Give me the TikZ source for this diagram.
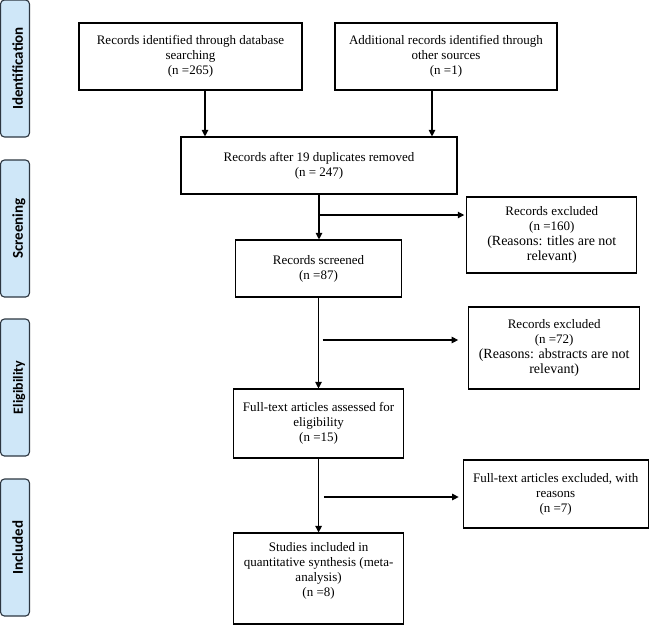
\documentclass[tikz,border=0pt]{standalone}
\usepackage{fontspec}
\setmainfont{Liberation Serif}
\newfontfamily\labfont{Carlito}
\usetikzlibrary{arrows.meta}
\definecolor{labfill}{RGB}{207,231,248}
\definecolor{labdraw}{RGB}{45,55,65}
\newcommand\rsn{\fontsize{14}{16.5}\selectfont}
\begin{document}
\begin{tikzpicture}[x=1pt,y=-1pt,
  box/.style={draw, line width=1.1pt, inner sep=0pt, align=center, font=\fontsize{13}{15}\selectfont},
  lab/.style={draw=labdraw, fill=labfill, line width=1.1pt, rounded corners=4pt, rotate=90,
    minimum width=137pt, minimum height=29pt, inner sep=0pt, text height=16pt, text depth=0pt,
    font=\labfont\bfseries\fontsize{15}{18}\selectfont},
  arr/.style={line width=1.1pt, -{Triangle[length=6.5pt,width=6.5pt]}}]
\useasboundingbox (0,0) rectangle (650,625);

% phase labels
\node[lab] (l1) at (15,68.5) {Identification};
\node[lab] (l2) at (15,228.5) {Screening};
\node[lab, font=\labfont\bfseries\fontsize{14}{17}\selectfont] (l3) at (15,387.5) {Eligibility};
\node[lab] (l4) at (15,547.5) {Included};

% boxes
\node[box, minimum width=223pt, minimum height=67pt] (b1) at (190.5,56.5) {Records identified through database\\searching\\(n =265)};
\node[box, minimum width=222pt, minimum height=67pt] (b2) at (446,56.5) {Additional records identified through\\other sources\\(n =1)};
\node[box, minimum width=276pt, minimum height=57pt] (b3) at (319,165.5) {Records after 19 duplicates removed\\(n = 247)};
\node[box, minimum width=170pt, minimum height=76pt] (e1) at (551.8,235) {Records excluded\\(n =160)\\\rsn (Reasons: titles are not\\\rsn relevant)};
\node[box, minimum width=166pt, minimum height=57pt] (s) at (318.5,268.5) {Records screened\\(n =87)};
\node[box, minimum width=171pt, minimum height=82pt] (e2) at (554.2,348) {Records excluded\\(n =72)\\\rsn (Reasons: abstracts are not\\\rsn relevant)};
\node[box, minimum width=170pt, minimum height=69pt] (f) at (318.6,423.5) {Full-text articles assessed for\\eligibility\\(n =15)};
\node[box, minimum width=185pt, minimum height=68pt] (e3) at (555.7,494) {Full-text articles excluded, with\\reasons\\(n =7)};
\node[box, minimum width=170pt, minimum height=91pt] (st) at (318.6,578.5) {Studies included in\\quantitative synthesis (meta-\\analysis)\\(n =8)\\[4pt]};

% connectors
\draw[arr] ([xshift=14.5pt]b1.south) -- ([xshift=14.5pt]b1.south |- b3.north);
\draw[arr] ([xshift=-14pt]b2.south) -- ([xshift=-14pt]b2.south |- b3.north);
\draw[arr] (b3.south) -- (b3.south |- s.north);
\coordinate (c1) at (319,215);
\draw[arr, shorten >=2pt] (c1) -- (c1 -| e1.west);
\draw[arr] (s.south) -- (s.south |- f.north);
\coordinate (c2) at (322.6,340);
\draw[arr, shorten >=10pt] (c2) -- (c2 -| e2.west);
\draw[arr] (f.south) -- (f.south |- st.north);
\coordinate (c3) at (323.8,497);
\draw[arr, shorten >=4pt] (c3) -- (c3 -| e3.west);
\end{tikzpicture}
\end{document}
